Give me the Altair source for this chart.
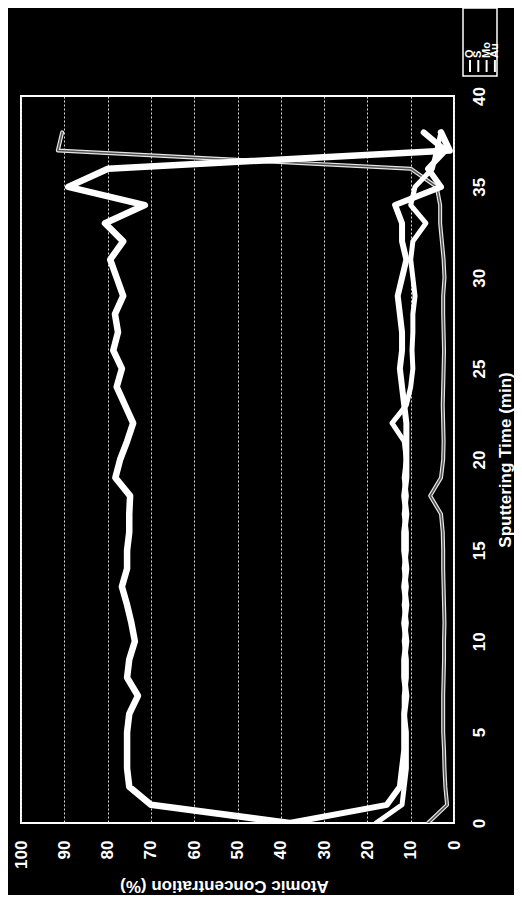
import altair as alt
import pandas as pd

# Sputtering time (min)
time = list(range(0, 39))

# Atomic concentration (%)
s_vals = [38, 70, 75, 75.5, 75.5, 75.5, 75, 73, 75.5, 75, 73.7, 74.5, 75.5, 76.7, 75.5,
          75.5, 75, 75, 74.8, 78.2, 77.1, 75.5, 74.1, 76, 77.9, 76.7, 78.7, 77.6, 78.3,
          76.4, 77.9, 79.4, 76.4, 80.6, 71.4, 89.1, 79.9, 1, 3]
mo_vals = [38, 15.5, 12.5, 12, 11.5, 11.5, 11.5, 11, 11.5, 11.5, 11, 11.5, 11, 11.5, 11,
           11.5, 11.5, 11, 11.5, 11, 11, 11, 11, 11.5, 12, 12.5, 12, 12, 12.5, 13, 12,
           11, 12, 12, 13.6, 3, 6, 2, 7]
o_vals = [18, 12, 11.5, 11, 11, 11, 11.5, 11.5, 11, 11, 11.5, 11, 11.5, 11, 11.5, 11, 11,
          11.5, 11, 11.5, 11, 11.5, 14.3, 11, 10, 9.5, 9.7, 9.5, 9.5, 9, 9.5, 10, 9.5,
          6.5, 10, 9, 5, 4, 3]
au_vals = [6, 1.6, 2, 2.2, 2.3, 2.5, 2.5, 2.5, 2.4, 2.3, 2.3, 2.2, 2.3, 2.4, 2.5, 2.5,
           2.6, 3, 5.5, 3, 2.5, 2.4, 2.5, 2.6, 2.5, 2.4, 2.3, 2.4, 2.5, 2.5, 2.2, 2.4,
           2.8, 3.2, 3.2, 4, 10, 91.5, 90.5]

series_names = ["O", "S", "Mo", "Au"]
conc_ticks = list(range(0, 101, 10))
time_ticks = list(range(0, 41, 5))

W, H = 433, 727

def frame(vals):
    return pd.DataFrame({"t": time, "c": vals})

x_enc = alt.X("c:Q",
              scale=alt.Scale(domain=[0, 100], reverse=True, nice=False),
              axis=alt.Axis(values=conc_ticks, orient="bottom", labelAngle=270,
                            labelAlign="right", labelBaseline="middle",
                            labelPadding=17, ticks=False, domain=False,
                            grid=True, gridColor="#dddddd", gridDash=[2, 2],
                            gridWidth=1,
                            labelFont="Liberation Sans", labelFontWeight="bold",
                            labelFontSize=17, labelColor="white",
                            title="Atomic Concentration (%)", titleAngle=180,
                            titleFont="Liberation Sans", titleFontWeight="bold",
                            titleFontSize=17, titleColor="white",
                            titleX=203, titleY=62, titleAlign="center",
                            titleBaseline="middle"))
y_enc = alt.Y("t:Q",
              scale=alt.Scale(domain=[0, 40], nice=False),
              axis=alt.Axis(values=time_ticks, orient="right", labelAngle=270,
                            labelAlign="center", labelBaseline="top",
                            labelPadding=17, ticks=False, domain=False, grid=False,
                            labelFont="Liberation Sans", labelFontWeight="bold",
                            labelFontSize=17, labelColor="white",
                            title="Sputtering Time (min)", titleAngle=270,
                            titleFont="Liberation Sans", titleFontWeight="bold",
                            titleFontSize=17, titleColor="white",
                            titleX=43, titleY=H / 2, titleAlign="center",
                            titleBaseline="top"))

def line(vals, color, width):
    return alt.Chart(frame(vals)).mark_line(color=color, strokeWidth=width,
                                            strokeJoin="round", strokeCap="round",
                                            clip=True).encode(
        x=x_enc, y=y_enc, order="t:Q")

au_outer = line(au_vals, "#e6e6e6", 4)
au_inner = line(au_vals, "#555555", 1.6)
o_line = line(o_vals, "white", 5)
mo_line = line(mo_vals, "white", 6)
s_line = line(s_vals, "white", 6.5)

# legend (drawn beside the plot, rotated like the rest)
leg_layers = []
box = alt.Chart(pd.DataFrame({"a": [0]})).mark_rect(
    fill="black", stroke="white", strokeWidth=1.5).encode(
    x=alt.value(W + 9), x2=alt.value(W + 43), y=alt.value(-88), y2=alt.value(-20))
leg_layers.append(box)
for i, name in enumerate(series_names):
    xc = W + 16 + i * 8.3
    sample = alt.Chart(pd.DataFrame({"a": [0]})).mark_rule(
        color="white", strokeWidth=2).encode(
        x=alt.value(xc), y=alt.value(-24), y2=alt.value(-36))
    lab = alt.Chart(pd.DataFrame({"name": [name]})).mark_text(
        angle=270, align="left", baseline="middle", color="white",
        font="Liberation Sans", fontWeight="bold", fontSize=11).encode(
        x=alt.value(xc), y=alt.value(-38), text="name:N")
    leg_layers += [sample, lab]

chart = alt.layer(au_outer, au_inner, o_line, mo_line, s_line, *leg_layers).properties(
    width=W, height=H,
    autosize=alt.AutoSizeParams(type="none"),
    padding={"left": 13, "top": 88, "right": 60, "bottom": 72},
    background="black",
).configure_view(stroke="white", strokeWidth=2)

chart.save("out.html", embed_options={"renderer": "svg", "actions": False})
